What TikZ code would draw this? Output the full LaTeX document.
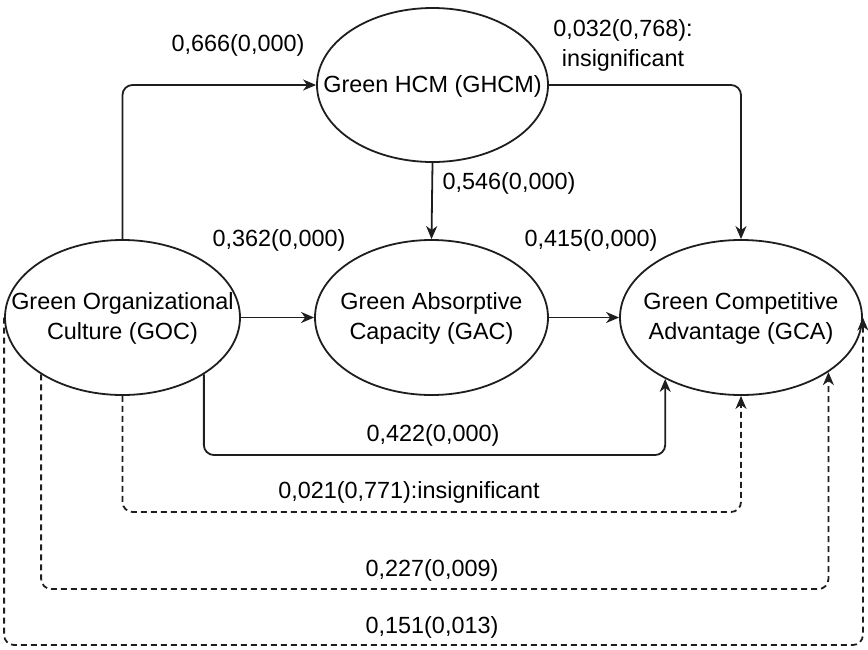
\documentclass[tikz,border=0pt]{standalone}
\usepackage{fontspec}
\setmainfont{Liberation Sans}
\usetikzlibrary{shapes.geometric,arrows.meta,calc}
\definecolor{ink}{HTML}{1E1E1E}
\begin{document}
\begin{tikzpicture}[x=1pt,y=-1pt,
  ell/.style={ellipse,draw=ink,line width=1.8pt,inner sep=0pt},
  lbl/.style={font=\fontsize{23.4}{30}\selectfont,inner sep=0pt,align=center,text=black},
  link/.style={draw=ink,line width=1.8pt,rounded corners=10pt,-{Stealth[length=13pt,width=11pt,inset=4pt]}},
  dlink/.style={link,dash pattern=on 6pt off 4pt}]
\useasboundingbox (0,0) rectangle (868,649);

% constructs
\node[ell,minimum width=231pt,minimum height=154pt] (ghcm) at (432.5,85) {};
\node[ell,minimum width=235pt,minimum height=155pt] (goc) at (122.5,317.5) {};
\node[ell,minimum width=233pt,minimum height=155pt] (gac) at (431.5,317.5) {};
\node[ell,minimum width=242pt,minimum height=155pt] (gca) at (741,317.5) {};

\node[lbl] (ghcmt) at (432.5,86) {Green HCM (GHCM)};
\node[lbl] (goct) at (122.5,318) {Green Organizational\\Culture (GOC)};
\node[lbl] (gact) at (431.5,318) {Green Absorptive\\Capacity (GAC)};
\node[lbl] (gcat) at (741,318) {Green Competitive\\Advantage (GCA)};

% levels of the lower paths
\coordinate (r1) at (0,455);
\coordinate (r2) at (0,512);
\coordinate (r3) at (0,589);
\coordinate (r4) at (0,645);

% direct paths
\draw[link] (goc.north) |- (ghcm.west);
\draw[link] (ghcm.east) -| (gca.north);
\draw[link] (ghcm.south) -- (gac.north);
\draw[link] (goc.east) -- (gac.west);
\draw[link] (gac.east) -- (gca.west);

% lower paths
\draw[link] (goc.-35) -- (goc.-35 |- r1) -| (gca.-141.6);
\draw[dlink] (goc.south) -- (goc.south |- r2) -| (gca.south);
\draw[dlink] (goc.-145.6) -- (goc.-145.6 |- r3) -| (gca.-32.4);
\draw[dlink] (goc.west) -- (goc.west |- r4) -| (gca.east);

% coefficients
\node[lbl] (l666) at (238,45) {0,666(0,000)};
\node[lbl] (l032) at (623,45) {0,032(0,768):\\insignificant};
\node[lbl] (l546) at (509,183) {0,546(0,000)};
\node[lbl] (l362) at (279,240) {0,362(0,000)};
\node[lbl] (l415) at (591,240) {0,415(0,000)};
\node[lbl] (l422) at (433,435) {0,422(0,000)};
\node[lbl] (l021) at (409,492) {0,021(0,771):insignificant};
\node[lbl] (l227) at (432,570) {0,227(0,009)};
\node[lbl] (l151) at (432,627) {0,151(0,013)};
\end{tikzpicture}
\end{document}
